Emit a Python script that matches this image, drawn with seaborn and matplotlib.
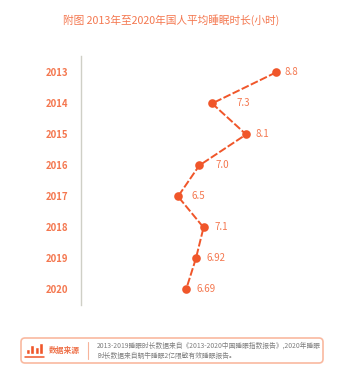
import matplotlib
matplotlib.use("Agg")
from matplotlib import pyplot as plt
from matplotlib.patches import FancyBboxPatch
from matplotlib.transforms import Affine2D
import seaborn as sns
import pandas as pd

years = [2013, 2014, 2015, 2016, 2017, 2018, 2019, 2020]
hours = [8.8, 7.3, 8.1, 7.0, 6.5, 7.1, 6.92, 6.69]
labels = ["8.8", "7.3", "8.1", "7.0", "6.5", "7.1", "6.92", "6.69"]
icon_heights = [5, 8, 6, 10]

title = "附图 2013年至2020年国人平均睡眠时长(小时)"
source_head = "数据来源"
source_line1 = "2013-2019睡眠时长数据来自《2013-2020中国睡眠指数报告》,2020年睡眠"
source_line2 = "时长数据来自蜗牛睡眠2亿限敏有效睡眠报告。"

# label offsets from the points, in pixels
label_dx = [9, 24, 9, 16, 14, 11, 11, 10]

ORANGE = "#f0562a"
TEXT = "#f4774f"

sns.set_style("white")
plt.rcParams["font.family"] = ["Noto Sans CJK SC", "DejaVu Sans"]

W, H = 356, 374
fig = plt.figure(figsize=(W / 100, H / 100), dpi=100)

# main axes, placed by pixels
ax = fig.add_axes([81 / W, 1 - 305 / H, 259 / W, 249 / H])
df = pd.DataFrame({"year": years, "hours": hours})
sns.lineplot(data=df, x="hours", y="year", orient="y", sort=False, ax=ax,
             color=ORANGE, linewidth=1.4, linestyle=(0, (4, 1.2)),
             marker="o", markersize=6.2, markeredgewidth=0, markerfacecolor=ORANGE)
ax.set_xlim(4.223, 10.303)
ax.set_ylim(2020.5, 2012.47)
ax.set_xlabel("")
ax.set_ylabel("")
ax.set_xticks([])
ax.set_yticks(years)
ax.set_yticklabels(years, fontsize=6.9, color=TEXT, fontweight="bold")
ax.tick_params(axis="y", length=0, pad=9.2)
for s in ["top", "right", "bottom"]:
    ax.spines[s].set_visible(False)
ax.spines["left"].set_color("#cfcfc6")
ax.spines["left"].set_linewidth(1)
ax.patch.set_alpha(0)

for h, y, t, dx in zip(hours, years, labels, label_dx):
    ax.annotate(t, (h, y), xytext=(dx * 0.72, 0), textcoords="offset points",
                va="center", ha="left", fontsize=7, color=TEXT)

fig.text(171 / W, 1 - 20 / H, title, ha="center", va="center", fontsize=7.7, color=TEXT)

# source box
box = FancyBboxPatch((21, 338), 302, 25, boxstyle="round,pad=0,rounding_size=4",
                     fc="white", ec="#f9b9a0", lw=1.2, zorder=-1)
box.set_transform(Affine2D().scale(1, -1).translate(0, H))
fig.add_artist(box)

icon = fig.add_axes([25.5 / W, 1 - 354 / H, 18 / W, 11 / H])
sns.barplot(x=list(range(len(icon_heights))), y=icon_heights, ax=icon, color=ORANGE,
            saturation=1, width=0.78)
icon.set_xlim(-0.5, 3.5)
icon.set_ylim(0, 10)
icon.set_xlabel("")
icon.set_ylabel("")
icon.set_xticks([])
icon.set_yticks([])
for s in ["top", "right", "left", "bottom"]:
    icon.spines[s].set_visible(False)
icon.patch.set_alpha(0)
fig.add_artist(plt.Line2D([25 / W, 44 / W], [1 - 356.5 / H, 1 - 356.5 / H], color=ORANGE, lw=1.1,
                          transform=fig.transFigure))

fig.text(49 / W, 1 - 350.5 / H, source_head, ha="left", va="center", fontsize=5.6, color="#ee7048",
         fontweight="bold")
fig.add_artist(plt.Line2D([87.5 / W, 87.5 / W], [1 - 342 / H, 1 - 359 / H], color="#f7b49b", lw=0.8,
                          transform=fig.transFigure))
fig.text(97 / W, 1 - 345.5 / H, source_line1, ha="left", va="center", fontsize=4.85, color="#7d7d7d")
fig.text(97 / W, 1 - 355.5 / H, source_line2, ha="left", va="center", fontsize=4.85, color="#7d7d7d")

fig.savefig("out.png", dpi=100)
